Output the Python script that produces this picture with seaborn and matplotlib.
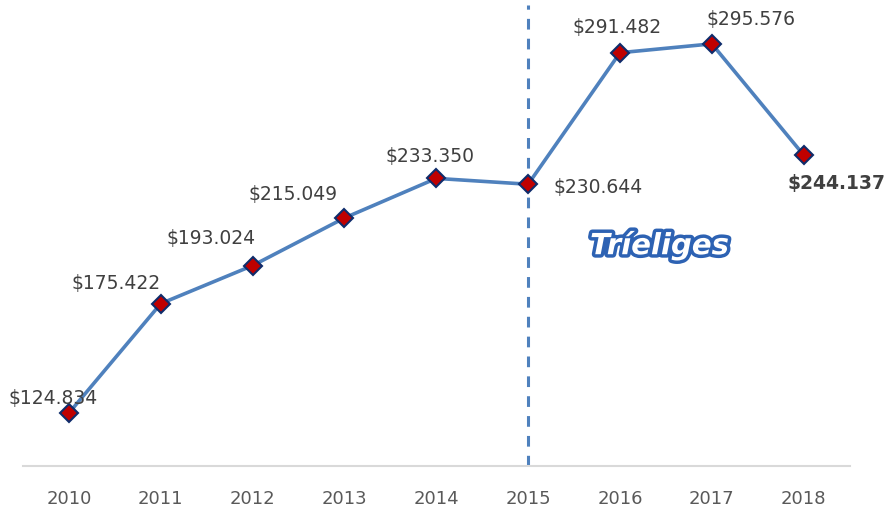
import pandas as pd
import numpy as np
import seaborn as sns
import matplotlib.pyplot as plt
import matplotlib.patheffects as pe

years = [2010, 2011, 2012, 2013, 2014, 2015, 2016, 2017, 2018]
values = [124.834, 175.422, 193.024, 215.049, 233.350, 230.644, 291.482, 295.576, 244.137]
labels = ["$124.834", "$175.422", "$193.024", "$215.049", "$233.350",
          "$230.644", "$291.482", "$295.576", "$244.137"]
# label offsets in pixels relative to the point
offsets = [(-16, 14), (-45, 20), (-42, 27), (-51, 23), (-6, 22),
           (70, -3), (-3, 25), (39, 24), (33, -28)]

df = pd.DataFrame({"year": years, "value": values})

sns.set_style("white")
plt.rcParams['font.family'] = ['DejaVu Sans']

fig = plt.figure(figsize=(8.85, 5.11), dpi=100)
ax = fig.add_axes([0.026, 0.088, 0.934, 0.902])

line_col = "#4f81bd"
sns.lineplot(data=df, x="year", y="value", ax=ax, color=line_col, linewidth=2.6,
             marker="D", markersize=9.5, markerfacecolor="#c00000",
             markeredgecolor="#0f2c6b", markeredgewidth=1.5)

ax.axvline(2015, color=line_col, linewidth=2.2, linestyle=(0, (3.5, 3)), zorder=1)

for yr, v, lab, (dx, dy) in zip(years, values, labels, offsets):
    bold = yr == 2018
    ax.annotate(lab, (yr, v), xytext=(dx, dy), textcoords="offset pixels",
                ha="center", va="center", fontsize=13.5, color="#404040",
                fontweight="bold" if bold else "normal")

# watermark
ax.text(0.77, 0.478, "Tríeliges", transform=ax.transAxes, ha="center", va="center",
        fontsize=21, color="white", fontweight="bold", style="italic",
        path_effects=[pe.withStroke(linewidth=5, foreground="#2d62b3")])

ax.set_xlim(2009.5, 2018.5)
ax.set_ylim(100.3, 313.5)
ax.set_xticks(years)
ax.set_xticklabels([str(y) for y in years], fontsize=13, color="#595959")
ax.set_yticks([])
ax.tick_params(axis="x", length=0, pad=17)
ax.set_xlabel("")
ax.set_ylabel("")
for s in ["top", "left", "right"]:
    ax.spines[s].set_visible(False)
ax.spines["bottom"].set_color("#d9d9d9")
ax.spines["bottom"].set_linewidth(1.5)

fig.savefig("out.png", dpi=100)
